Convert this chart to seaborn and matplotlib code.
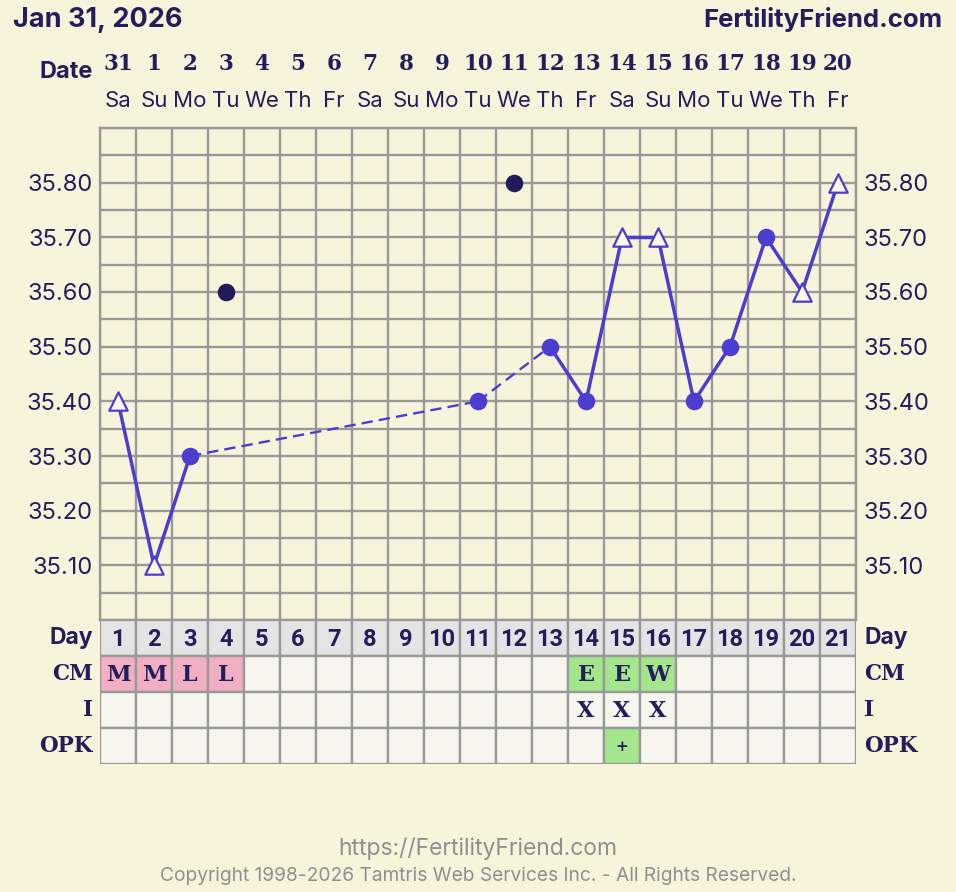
import matplotlib
matplotlib.use("Agg")
import matplotlib.pyplot as plt
import matplotlib.transforms as mtransforms
from matplotlib.patches import Rectangle
import seaborn as sns
import pandas as pd
import numpy as np

# ---------------- data ----------------
cycle_days = list(range(1, 22))
dates = ["31", "1", "2", "3", "4", "5", "6", "7", "8", "9", "10",
         "11", "12", "13", "14", "15", "16", "17", "18", "19", "20"]
weekdays = ["Sa", "Su", "Mo", "Tu", "We", "Th", "Fr", "Sa", "Su", "Mo", "Tu",
            "We", "Th", "Fr", "Sa", "Su", "Mo", "Tu", "We", "Th", "Fr"]
temps = [35.40, 35.10, 35.30, 35.60, np.nan, np.nan, np.nan, np.nan, np.nan, np.nan,
         35.40, 35.80, 35.50, 35.40, 35.70, 35.70, 35.40, 35.50, 35.70, 35.60, 35.80]
# marker kind: tri = open triangle, circ = filled circle, disc = discarded
marker_kind = ["tri", "tri", "circ", "disc", "", "", "", "", "", "",
               "circ", "disc", "circ", "circ", "tri", "tri", "circ", "circ", "circ", "tri", "tri"]
cervical_mucus = ["M", "M", "L", "L", "", "", "", "", "", "", "",
                  "", "", "E", "E", "W", "", "", "", "", ""]
intercourse = ["", "", "", "", "", "", "", "", "", "", "",
               "", "", "X", "X", "X", "", "", "", "", ""]
opk = ["", "", "", "", "", "", "", "", "", "", "",
       "", "", "", "+", "", "", "", "", "", ""]
temp_labels = ["35.10", "35.20", "35.30", "35.40", "35.50", "35.60", "35.70", "35.80"]

# ---------------- style ----------------
BG = "#f8f4dc"
GRID = "#999999"
NAVY = "#231d5c"
LINE = "#4a3dd0"
DISC = "#211b58"
PINK = "#f2afc3"
GREEN = "#a4e68b"
DAYROW = "#e4e4e4"
CELL = "#f6f6ef"
FOOT = "#8f8f8f"
SANS = ["Inter", "DejaVu Sans"]
SLAB = ["DejaVu Serif"]

sns.set_theme(style="white")
plt.rcParams["font.family"] = SANS

W, H = 956, 892
fig = plt.figure(figsize=(W / 100, H / 100), dpi=100, facecolor=BG)


def fx(px):
    return px / W


def fy(py):
    return 1 - py / H


# ---------------- temperature chart ----------------
ax = fig.add_axes([fx(100), fy(620), fx(856) - fx(100), fy(128) - fy(620)])
ax.set_facecolor(BG)
ax.set_xlim(0.5, 21.5)
ax.set_ylim(35.0, 35.9)
ax.set_xticks(np.arange(0.5, 22, 1))
ax.set_xticklabels([])
yt = np.round(np.arange(35.0, 35.91, 0.05), 2)
ax.set_yticks(yt)
ax.set_yticklabels([f"{v:.2f}" if f"{v:.2f}" in temp_labels else "" for v in yt])
ax.tick_params(axis="both", length=0, labelsize=17, labelcolor=NAVY, pad=5.5,
               labelleft=True, labelright=True)
ax.grid(True, color=GRID, lw=1.7)
ax.set_axisbelow(True)
for s in ax.spines.values():
    s.set_color(GRID)
    s.set_linewidth(1.7)

df = pd.DataFrame({"day": cycle_days, "temp": temps, "kind": marker_kind})
valid = df[df["kind"].isin(["tri", "circ"])].reset_index(drop=True)

# connecting segments: solid for consecutive days, dashed across gaps
for i in range(len(valid) - 1):
    seg = valid.iloc[i:i + 2]
    gap = seg["day"].iloc[1] - seg["day"].iloc[0]
    line = sns.lineplot(data=seg, x="day", y="temp", ax=ax, color=LINE,
                        lw=1.7 if gap > 1 else 2.5,
                        estimator=None, sort=False, legend=False)
    if gap > 1:
        line.lines[-1].set_dashes((4.8, 2.6))

sns.scatterplot(data=df[df["kind"] == "circ"], x="day", y="temp", ax=ax, marker="o",
                s=160, color=LINE, edgecolor=LINE, linewidth=0, zorder=5, legend=False)
sns.scatterplot(data=df[df["kind"] == "tri"], x="day", y="temp", ax=ax, marker="^",
                s=175, facecolor="#fbf9ee", edgecolor=LINE, linewidth=1.6, zorder=5, legend=False)
sns.scatterplot(data=df[df["kind"] == "disc"], x="day", y="temp", ax=ax, marker="o",
                s=160, color=DISC, edgecolor=DISC, linewidth=0, zorder=5, legend=False)
ax.set_xlabel("")
ax.set_ylabel("")

# date header
tr = mtransforms.blended_transform_factory(ax.transData, fig.transFigure)
for d, dt, wd in zip(cycle_days, dates, weekdays):
    ax.text(d, fy(64), dt, transform=tr, ha="center", va="center", fontsize=15.5,
            fontweight="bold", color=NAVY, family=SLAB)
    ax.text(d, fy(101), wd, transform=tr, ha="center", va="center", fontsize=16,
            color=NAVY, family=SANS)

fig.text(fx(93), fy(72), "Date", ha="right", va="center", fontsize=17,
         fontweight="bold", color=NAVY)
fig.text(fx(13), fy(20), "Jan 31, 2026", ha="left", va="center", fontsize=19.5,
         fontweight="bold", color=NAVY)
fig.text(fx(942), fy(20), "FertilityFriend.com", ha="right", va="center", fontsize=18.5,
         fontweight="bold", color=NAVY)

# ---------------- table ----------------
tax = fig.add_axes([fx(100), fy(764), fx(856) - fx(100), fy(620) - fy(764)])
tax.set_xlim(0.5, 21.5)
tax.set_ylim(4, 0)
tax.axis("off")

rows = [("Day", [str(d) for d in cycle_days]), ("CM", cervical_mucus),
        ("I", intercourse), ("OPK", opk)]
ttr = mtransforms.blended_transform_factory(fig.transFigure, tax.transData)
for r, (name, vals) in enumerate(rows):
    for d, v in zip(cycle_days, vals):
        if r == 0:
            fc = DAYROW
        elif r == 1 and v in ("M", "L"):
            fc = PINK
        elif (r == 1 and v in ("E", "W")) or (r == 3 and v == "+"):
            fc = GREEN
        else:
            fc = CELL
        tax.add_patch(Rectangle((d - 0.5, r), 1, 1, facecolor=fc, edgecolor=GRID, lw=1.7))
        if v:
            if r == 0:
                tax.text(d, r + 0.53, v, ha="center", va="center", fontsize=17,
                         fontweight="bold", color=NAVY, family=["Roboto", "DejaVu Sans"])
            else:
                tax.text(d, r + 0.53, v, ha="center", va="center",
                         fontsize=11 if v == "+" else 16, fontweight="bold",
                         color=NAVY, family=SLAB)
    fam = SANS if r == 0 else SLAB
    tax.text(fx(93), r + 0.5, name, transform=ttr, ha="right", va="center",
             fontsize=16.5 if r == 0 else 15.5, fontweight="bold", color=NAVY, family=fam)
    tax.text(fx(864), r + 0.5, name, transform=ttr, ha="left", va="center",
             fontsize=16.5 if r == 0 else 15.5, fontweight="bold", color=NAVY, family=fam)

# ---------------- footer ----------------
fig.text(0.5, fy(849), "https://FertilityFriend.com", ha="center", va="center",
         fontsize=16.5, color=FOOT)
fig.text(0.5, fy(876), "Copyright 1998-2026 Tamtris Web Services Inc. - All Rights Reserved.",
         ha="center", va="center", fontsize=13.8, color=FOOT)

fig.savefig("out.png", dpi=100, facecolor=BG)
